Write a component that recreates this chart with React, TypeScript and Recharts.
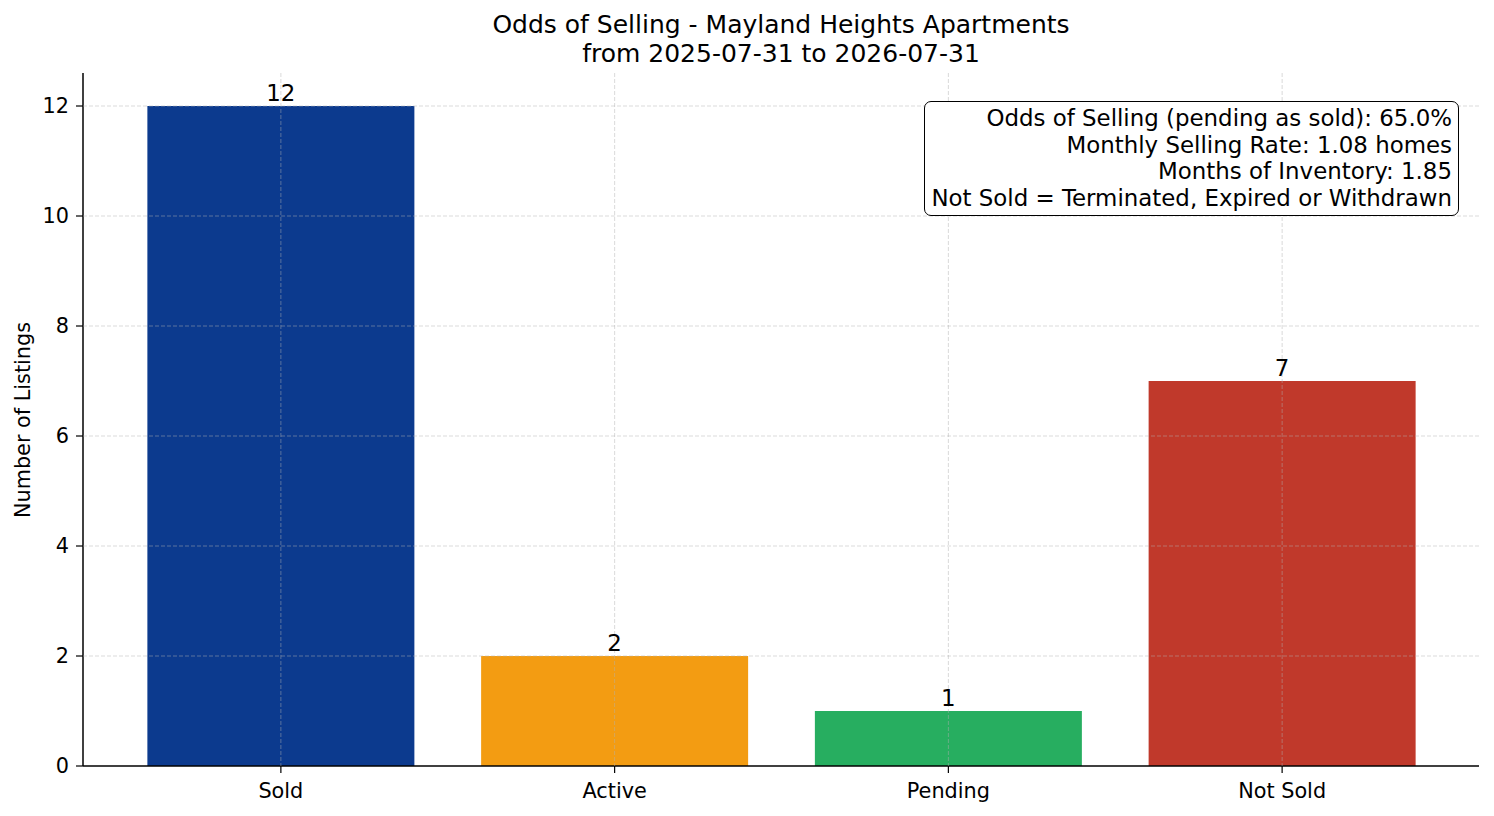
import React from "react";
import { BarChart, Bar, XAxis, YAxis, CartesianGrid, Cell, LabelList } from "recharts";

const categories = ["Sold", "Active", "Pending", "Not Sold"];
const counts = [12, 2, 1, 7];
const colors = ["#0c3a8e", "#f39c12", "#27ae60", "#c0392b"];
const yTicks = [0, 2, 4, 6, 8, 10, 12];
const gridValues = [2, 4, 6, 8, 10, 12];
const titleLines = ["Odds of Selling - Mayland Heights Apartments", "from 2025-07-31 to 2026-07-31"];
const noteLines = [
  "Odds of Selling (pending as sold): 65.0%",
  "Monthly Selling Rate: 1.08 homes",
  "Months of Inventory: 1.85",
  "Not Sold = Terminated, Expired or Withdrawn",
];

const data = categories.map((c, i) => ({ name: c, value: counts[i] }));
const FONT = "'DejaVu Sans', sans-serif";

export default function App() {
  return (
    <div style={{ position: "absolute", left: 0, top: 0, width: 1494, height: 816, background: "#fff", fontFamily: FONT }}>
      <BarChart
        width={1494}
        height={816}
        data={data}
        margin={{ top: 73, right: 15, bottom: 0, left: 0 }}
        barCategoryGap="10%"
      >
        <XAxis
          dataKey="name"
          padding={{ left: 31, right: 30 }}
          height={50}
          tickSize={7}
          tickMargin={10}
          axisLine={{ stroke: "#000", strokeWidth: 1.5 }}
          tickLine={{ stroke: "#000", strokeWidth: 1.2 }}
          tick={{ fill: "#000", fontSize: 20.8, fontFamily: FONT }}
        />
        <YAxis
          width={83}
          domain={[0, 12.6]}
          ticks={yTicks}
          type="number"
          allowDataOverflow
          tickSize={7}
          tickMargin={7}
          axisLine={{ stroke: "#000", strokeWidth: 1.5 }}
          tickLine={{ stroke: "#000", strokeWidth: 1.2 }}
          tick={{ fill: "#000", fontSize: 20.8, fontFamily: FONT }}
        />
        <Bar dataKey="value" isAnimationActive={false}>
          {data.map((d, i) => (
            <Cell key={d.name} fill={colors[i]} />
          ))}
          <LabelList dataKey="value" position="top" offset={5} fill="#000" fontSize={22.9} fontFamily={FONT} />
        </Bar>
        <CartesianGrid
          syncWithTicks
          horizontalValues={gridValues}
          zIndex={1000}
          stroke="#b0b0b0"
          strokeOpacity={0.6}
          strokeDasharray="4 2"
          strokeWidth={0.8}
        />
      </BarChart>
      <div style={{ position: "absolute", left: 83, width: 1396, top: 10, textAlign: "center", fontSize: 25, lineHeight: "29.4px", color: "#000" }}>
        {titleLines.map((t) => (
          <div key={t}>{t}</div>
        ))}
      </div>
      <div style={{ position: "absolute", left: 0, top: 420, width: 0, height: 0 }}>
        <div
          style={{
            position: "absolute",
            transform: "translate(-50%, -50%) rotate(-90deg)",
            left: 23,
            top: 0,
            whiteSpace: "nowrap",
            fontSize: 20.8,
            color: "#000",
          }}
        >
          Number of Listings
        </div>
      </div>
      <div
        style={{
          position: "absolute",
          right: 1494 - 1459,
          top: 101,
          border: "1.6px solid #000",
          borderRadius: 7,
          padding: "3px 6px 3px 6px",
          textAlign: "right",
          fontSize: 22.9,
          lineHeight: "26.7px",
          background: "#fff",
          color: "#000",
          whiteSpace: "nowrap",
        }}
      >
        {noteLines.map((t) => (
          <div key={t}>{t}</div>
        ))}
      </div>
    </div>
  );
}
